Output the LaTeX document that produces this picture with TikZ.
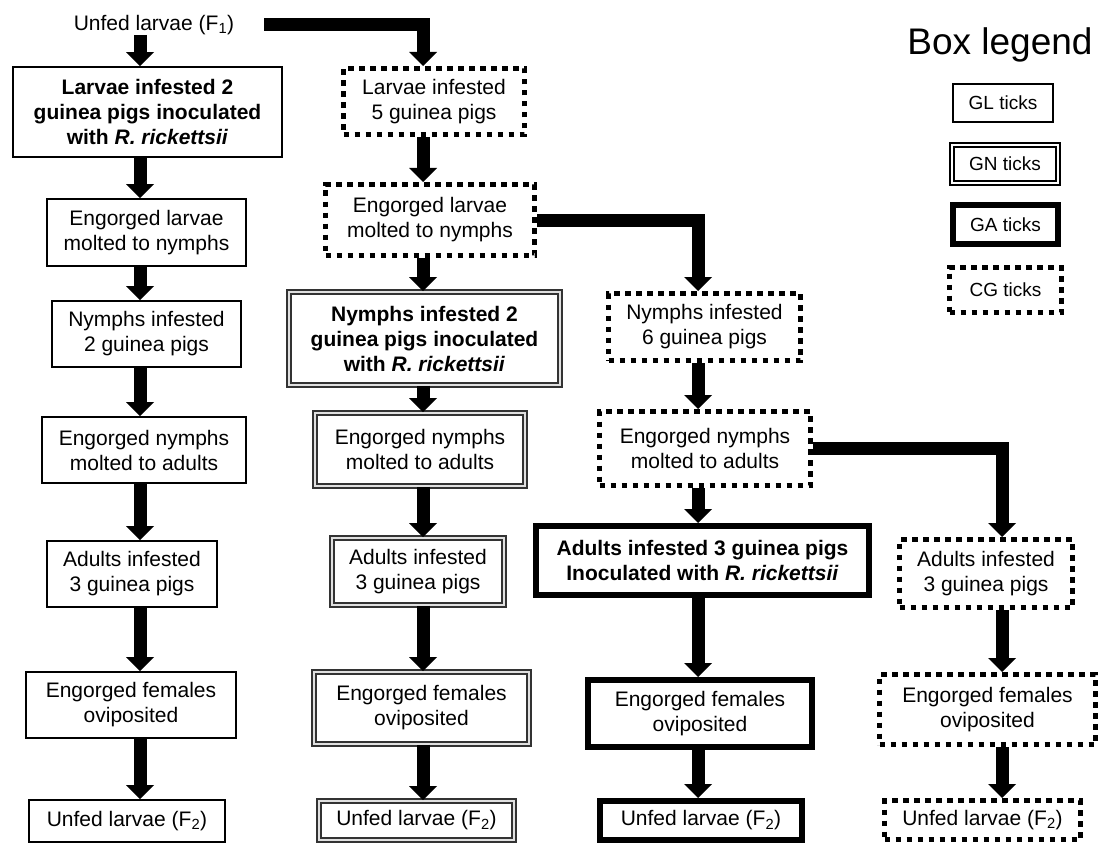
\documentclass[tikz,border=0pt]{standalone}
\usepackage{fontspec}
\setmainfont{Liberation Sans}
\usetikzlibrary{arrows.meta, calc}

\tikzset{
  box/.style={inner sep=0pt, align=center, font=\fontsize{21}{25}\selectfont},
  bold/.style={font=\fontsize{21}{25}\selectfont\bfseries},
  wh/.style 2 args={minimum width=#1pt, minimum height=#2pt},
  glbox/.style={box, draw, line width=1.8pt},
  gnbox/.style={box, draw=black!80, double=black!12, double distance=2.4pt, line width=1.6pt},
  gabox/.style={box, draw, line width=6pt},
  cgbox/.style={box, draw, line width=5pt, dash pattern=on 5.5pt off 5.5pt},
  legendbox/.style={font=\fontsize{19}{22}\selectfont},
  flow/.style={line width=13pt, -{Triangle[width=28pt, length=14pt, line width=0pt]}}
}

\begin{document}
\begin{tikzpicture}[x=1pt, y=-1pt]
\useasboundingbox (0,0) rectangle (1099,845);
% x of the arrows in each column
\coordinate (colA) at (140,0);
\coordinate (colB) at (423,0);
\coordinate (colC) at (698,0);
\coordinate (colD) at (1002,0);

% GL ticks
\node[box] (f1) at (154,25) {Unfed larvae (F\textsubscript{1})};
\node[glbox, bold, wh={269}{90}] (a1) at (147.5,112) {Larvae infested 2\\guinea pigs inoculated\\with \textit{R. rickettsii}};
\node[glbox, wh={199}{67}] (a2) at (146.5,232.5) {Engorged larvae\\molted to nymphs};
\node[glbox, wh={189}{66}] (a3) at (146.5,334) {Nymphs infested\\2 guinea pigs};
\node[glbox, wh={204}{66}] (a4) at (144,450) {Engorged nymphs\\molted to adults};
\node[glbox, wh={170}{66}] (a5) at (132,574) {Adults infested\\3 guinea pigs};
\node[glbox, wh={210}{66}] (a6) at (131,705) {Engorged females\\oviposited};
\node[glbox, wh={196}{42}] (a7) at (127,821) {Unfed larvae (F\textsubscript{2})};

% GN ticks
\node[cgbox, wh={181}{66}] (b1) at (434,101.5) {Larvae infested\\5 guinea pigs};
\node[cgbox, wh={209}{71}] (b2) at (430,220) {Engorged larvae\\molted to nymphs};
\node[gnbox, bold, wh={271}{93}] (b3) at (424.5,338.5) {Nymphs infested 2\\guinea pigs inoculated\\with \textit{R. rickettsii}};
\node[gnbox, wh={210}{73}] (b4) at (420,449.5) {Engorged nymphs\\molted to adults};
\node[gnbox, wh={172}{67}] (b5) at (418,571.5) {Adults infested\\3 guinea pigs};
\node[gnbox, wh={215}{72}] (b6) at (421.5,708) {Engorged females\\oviposited};
\node[gnbox, wh={195}{39}] (b7) at (416.5,820.5) {Unfed larvae (F\textsubscript{2})};

% GA ticks
\node[cgbox, wh={192}{67}] (c1) at (704.5,327) {Nymphs infested\\6 guinea pigs};
\node[cgbox, wh={211}{74}] (c2) at (705,448.5) {Engorged nymphs\\molted to adults};
\node[gabox, bold, wh={333}{69}] (c3) at (702.5,560.5) {Adults infested 3 guinea pigs\\Inoculated with \textit{R. rickettsii}};
\node[gabox, wh={224}{67}] (c4) at (700,713.5) {Engorged females\\oviposited};
\node[gabox, wh={202}{39}] (c5) at (701,820.5) {Unfed larvae (F\textsubscript{2})};

% CG ticks
\node[cgbox, wh={173}{68}] (d1) at (986,573.5) {Adults infested\\3 guinea pigs};
\node[cgbox, wh={216}{70}] (d2) at (987.5,709.5) {Engorged females\\oviposited};
\node[cgbox, wh={196}{39}] (d3) at (982.5,820) {Unfed larvae (F\textsubscript{2})};

% legend
\node[font=\fontsize{37}{40}\selectfont] (legend) at (1000,45) {Box legend};
\node[glbox, legendbox, wh={100}{38}] (lgl) at (1003,103) {GL ticks};
\node[gnbox, legendbox, draw=black, double=white, wh={106}{38}] (lgn) at (1005,164) {GN ticks};
\node[gabox, legendbox, wh={105}{39}] (lga) at (1005.5,224.5) {GA ticks};
\node[cgbox, legendbox, wh={112}{45}] (lcg) at (1005.5,290) {CG ticks};

% arrows
\draw[flow] (f1.south -| colA) -- (a1.north -| colA);
\draw[flow] (a1.south -| colA) -- (a2.north -| colA);
\draw[flow] (a2.south -| colA) -- (a3.north -| colA);
\draw[flow] (a3.south -| colA) -- (a4.north -| colA);
\draw[flow] (a4.south -| colA) -- (a5.north -| colA);
\draw[flow] (a5.south -| colA) -- (a6.north -| colA);
\draw[flow] (a6.south -| colA) -- (a7.north -| colA);

\draw[flow] ([xshift=30pt]f1.east) -| (b1.north -| colB);
\draw[flow] (b1.south -| colB) -- (b2.north -| colB);
\draw[flow] (b2.south -| colB) -- (b3.north -| colB);
\draw[flow] (b3.south -| colB) -- (b4.north -| colB);
\draw[flow] (b4.south -| colB) -- (b5.north -| colB);
\draw[flow] (b5.south -| colB) -- (b6.north -| colB);
\draw[flow] (b6.south -| colB) -- (b7.north -| colB);

\draw[flow] (b2.east) -| (c1.north -| colC);
\draw[flow] (c1.south -| colC) -- (c2.north -| colC);
\draw[flow] (c2.south -| colC) -- (c3.north -| colC);
\draw[flow] (c3.south -| colC) -- (c4.north -| colC);
\draw[flow] (c4.south -| colC) -- (c5.north -| colC);

\draw[flow] (c2.east) -| (d1.north -| colD);
\draw[flow] (d1.south -| colD) -- (d2.north -| colD);
\draw[flow] (d2.south -| colD) -- (d3.north -| colD);
\end{tikzpicture}
\end{document}
